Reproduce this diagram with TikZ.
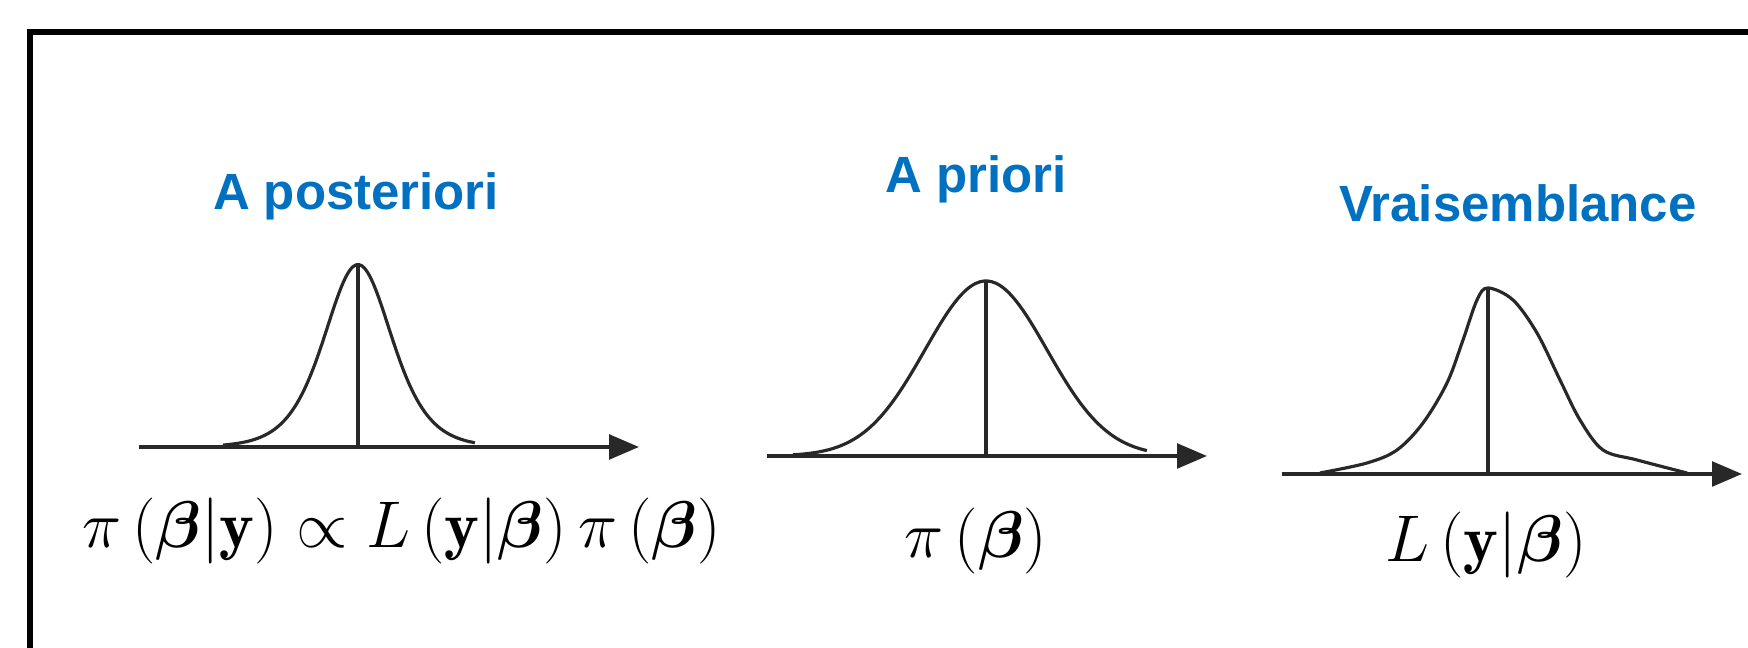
\RequirePackage{fix-cm}
\documentclass[tikz,border=0pt]{standalone}
\usepackage{amsmath,amssymb}
\usepackage{fontspec}
\setsansfont{Liberation Sans}
\usepackage{xcolor}
\usepackage{tikz}
\usetikzlibrary{arrows.meta}
\definecolor{titlecolor}{RGB}{0,112,192}
\definecolor{curvecolor}{RGB}{40,40,40}

\begin{document}
\begin{tikzpicture}[
  frame/.style={draw=black, line width=1.7pt},
  axis/.style={-{Triangle[length=8.5pt,width=7pt]}, line width=1pt, draw=curvecolor},
  density/.style={line width=0.9pt, draw=curvecolor},
  mode/.style={line width=0.9pt, draw=curvecolor},
  ttl/.style={font=\sffamily\bfseries\fontsize{14.5}{17}\selectfont, text=titlecolor, anchor=base, inner sep=0pt},
  law/.style={font=\fontsize{18.8}{22}\selectfont, anchor=base, inner sep=0pt},
]
\useasboundingbox (0,0) rectangle (17.48,-6.48);
\clip (0,0) rectangle (17.48,-6.48);
\draw[frame] (0.30,-0.32) rectangle (18.0,-7.0);

% A posteriori
\node[ttl] (posttitle) at (3.56,-2.10) {A posteriori};
\coordinate (postL) at (1.39,-4.47);
\coordinate (postR) at (6.39,-4.47);
\coordinate (postpeak) at (3.58,-2.645);
\coordinate (postmid) at (3.58,-4.47);
\draw[axis] (postL) -- (postR);
\draw[density] plot[domain=-1.35:1.17, samples=90, smooth] ({3.58+\x},{-4.47+1.825/(cosh(\x/0.455)^2)});
\draw[mode] (postpeak) -- (postmid);
\node[law] (postlaw) at (4.015,-5.48) {$\pi\left(\boldsymbol{\beta}|\mathbf{y}\right)\propto L\left(\mathbf{y}|\boldsymbol{\beta}\right)\pi\left(\boldsymbol{\beta}\right)$};

% A priori
\node[ttl] (priortitle) at (9.76,-1.93) {A priori};
\coordinate (priorL) at (7.67,-4.56);
\coordinate (priorR) at (12.07,-4.56);
\coordinate (priorpeak) at (9.86,-2.81);
\coordinate (priormid) at (9.86,-4.56);
\draw[axis] (priorL) -- (priorR);
\draw[density] plot[domain=-1.93:1.61, samples=90, smooth] ({9.86+\x},{-4.56+1.75*exp(-(\x)*(\x)/0.744)});
\draw[mode] (priorpeak) -- (priormid);
\node[law] (priorlaw) at (9.76,-5.58) {$\pi\left(\boldsymbol{\beta}\right)$};

% Vraisemblance
\node[ttl] (liketitle) at (15.18,-2.22) {Vraisemblance};
\coordinate (likeL) at (12.82,-4.74);
\coordinate (likeR) at (17.42,-4.74);
\coordinate (likepeak) at (14.88,-2.88);
\coordinate (likemid) at (14.88,-4.74);
\draw[axis] (likeL) -- (likeR);
\draw[density] plot[smooth, tension=0.55] coordinates {(13.20,-4.73) (13.67,-4.63) (13.97,-4.50) (14.23,-4.23) (14.47,-3.83) (14.63,-3.40) (14.77,-3.00) (likepeak) (15.13,-3.00) (15.37,-3.33) (15.60,-3.80) (15.80,-4.20) (16.03,-4.50) (16.37,-4.60) (16.87,-4.73)};
\draw[mode] (likepeak) -- (likemid);
\node[law] (likelaw) at (14.86,-5.62) {$L\left(\mathbf{y}|\boldsymbol{\beta}\right)$};
\end{tikzpicture}
\end{document}
